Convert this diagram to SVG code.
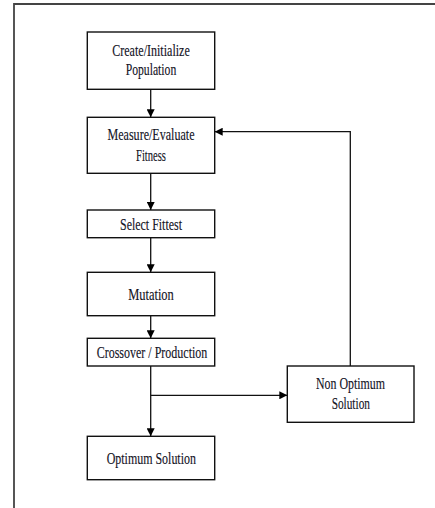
<svg xmlns="http://www.w3.org/2000/svg" width="435" height="508" viewBox="0 0 435 508">
<style>
.box{fill:#fff;stroke:#111;stroke-width:1.4}
.t{font-family:"Liberation Serif","Times New Roman",serif;font-size:17.5px;fill:#14141f;text-anchor:middle;stroke:#14141f;stroke-width:0.15}
.c{fill:none;stroke:#111;stroke-width:1.3}
</style>
<defs>
<marker id="ah" viewBox="0 0 10 10" refX="10" refY="5" markerWidth="9" markerHeight="8" markerUnits="userSpaceOnUse" orient="auto">
<path d="M0,0 L10,5 L0,10 Z" fill="#000"/>
</marker>
</defs>
<rect x="0" y="0" width="435" height="508" fill="#fff"/>
<path d="M14,520 L14,4 L440,4" fill="none" stroke="#444" stroke-width="1.8"/>
<g id="n1">
<rect class="box" x="87.3" y="32" width="127.4" height="57.3"/>
<text class="t" x="151" y="55.5" textLength="77.6" lengthAdjust="spacingAndGlyphs">Create/Initialize</text>
<text class="t" x="151" y="75" textLength="50.6" lengthAdjust="spacingAndGlyphs">Population</text>
</g>
<g id="n2">
<rect class="box" x="87.3" y="117.3" width="127.4" height="56"/>
<text class="t" x="151" y="140" textLength="87" lengthAdjust="spacingAndGlyphs">Measure/Evaluate</text>
<text class="t" x="151" y="161" textLength="30" lengthAdjust="spacingAndGlyphs">Fitness</text>
</g>
<g id="n3">
<rect class="box" x="87.3" y="210" width="127.4" height="27.7"/>
<text class="t" x="151" y="229.5" textLength="62" lengthAdjust="spacingAndGlyphs">Select Fittest</text>
</g>
<g id="n4">
<rect class="box" x="87.3" y="272.3" width="127.4" height="43.4"/>
<text class="t" x="151" y="299.5" textLength="45.7" lengthAdjust="spacingAndGlyphs">Mutation</text>
</g>
<g id="n5">
<rect class="box" x="87.3" y="338.3" width="127.4" height="27.7"/>
<text class="t" x="152" y="357.5" textLength="110.6" lengthAdjust="spacingAndGlyphs">Crossover / Production</text>
</g>
<g id="n6">
<rect class="box" x="87.3" y="436.3" width="127.4" height="43.4"/>
<text class="t" x="151.3" y="463.5" textLength="89.3" lengthAdjust="spacingAndGlyphs">Optimum Solution</text>
</g>
<g id="n7">
<rect class="box" x="287.3" y="366" width="126.7" height="56.3"/>
<text class="t" x="350.5" y="389" textLength="69" lengthAdjust="spacingAndGlyphs">Non Optimum</text>
<text class="t" x="350.8" y="409" textLength="38.3" lengthAdjust="spacingAndGlyphs">Solution</text>
</g>
<g id="connectors">
<path class="c" d="M150.7,89.3 L150.7,117.3" marker-end="url(#ah)"/>
<path class="c" d="M150.7,173.3 L150.7,210" marker-end="url(#ah)"/>
<path class="c" d="M150.7,237.7 L150.7,272.3" marker-end="url(#ah)"/>
<path class="c" d="M150.7,315.7 L150.7,338.3" marker-end="url(#ah)"/>
<path class="c" d="M150.7,366 L150.7,436.3" marker-end="url(#ah)"/>
<path class="c" d="M150.7,395.3 L287.3,395.3" marker-end="url(#ah)"/>
<path class="c" d="M350.3,366 L350.3,131.7 L214.7,131.7" marker-end="url(#ah)"/>
</g>
</svg>
